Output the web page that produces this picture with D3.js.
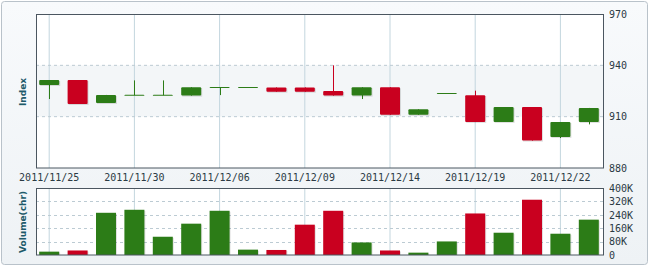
<!DOCTYPE html>
<html>
<head>
<meta charset="utf-8">
<script src="https://cdn.jsdelivr.net/npm/d3@7"></script>
<style>
  body { margin: 0; background: #ffffff; }
  svg { display: block; }
  .tick text { font-family: "DejaVu Sans Mono", monospace; font-size: 10px; fill: #2b3a44; }
</style>
</head>
<body>
<svg id="chart"></svg>
<script>
// trading days shown on the chart
const dates = ["2011/11/25", "2011/11/28", "2011/11/29", "2011/11/30", "2011/12/01",
  "2011/12/02", "2011/12/06", "2011/12/07", "2011/12/08", "2011/12/09",
  "2011/12/12", "2011/12/13", "2011/12/14", "2011/12/15", "2011/12/16",
  "2011/12/19", "2011/12/20", "2011/12/21", "2011/12/22", "2011/12/23"];
const openVals  = [928.5, 931.4, 918.0, 922.5, 922.5, 922.3, 927.0, 927.1, 927.1, 927.1,
  925.0, 922.3, 927.2, 911.1, 923.6, 922.5, 906.9, 915.6, 898.1, 906.9];
const highVals  = [931.4, 931.4, 922.7, 931.2, 931.2, 927.2, 927.0, 927.1, 927.1, 927.1,
  940.0, 927.2, 927.2, 914.3, 923.6, 925.2, 915.6, 915.6, 906.9, 915.1];
const lowVals   = [920.3, 917.4, 918.0, 922.5, 922.5, 922.3, 922.6, 927.1, 924.6, 924.6,
  922.3, 920.3, 911.1, 911.1, 923.6, 906.9, 906.9, 896.0, 897.5, 905.5];
const closeVals = [931.4, 917.4, 922.7, 922.5, 922.5, 927.2, 927.0, 927.1, 924.6, 924.6,
  922.3, 927.2, 911.1, 914.3, 923.6, 906.9, 915.6, 896.0, 906.9, 915.1];
const volumes   = [20000, 27000, 252000, 270000, 109000, 187000, 264000, 32000, 30000, 181000,
  264000, 75000, 27000, 14000, 81000, 248000, 133000, 330000, 127000, 211000];
const priceTicks = [880, 910, 940, 970];
const volTicks = [0, 80000, 160000, 240000, 320000, 400000];

const W = 650, H = 270;
const upColor = "#2c7c17", downColor = "#c9001f";

const svg = d3.select("#chart").attr("width", W).attr("height", H);

// frame background
const defs = svg.append("defs");
const grad = defs.append("linearGradient").attr("id", "bg").attr("x1", 0).attr("y1", 0).attr("x2", 0).attr("y2", 1);
grad.append("stop").attr("offset", "0%").attr("stop-color", "#f8fafc");
grad.append("stop").attr("offset", "100%").attr("stop-color", "#eef2f5");
svg.append("rect")
    .attr("x", 1.5).attr("y", 1.5)
    .attr("width", W - 4).attr("height", 263)
    .attr("rx", 3)
    .attr("fill", "url(#bg)")
    .attr("stroke", "#b9c2ca");

// scales
const x = d3.scaleBand().domain(dates).range([35, 603]);
const bw = 20;
const cx = d => x(d) + x.bandwidth() / 2;
const y = d3.scaleLinear().domain([880, 970]).range([168, 14]);
const yv = d3.scaleLinear().domain([0, 400000]).range([255, 188]);

const labelDates = dates.filter((d, i) => i % 3 === 0);

// ---------- price panel ----------
svg.append("rect")
    .attr("x", 36).attr("y", 14).attr("width", 568).attr("height", 154)
    .attr("fill", "#ffffff");
svg.append("rect")
    .attr("x", 36).attr("y", y(940)).attr("width", 568).attr("height", y(910) - y(940))
    .attr("fill", "#f3f6f8");

svg.append("g")
    .selectAll("line")
    .data(labelDates)
    .enter()
    .append("line")
    .attr("x1", d => cx(d)).attr("x2", d => cx(d))
    .attr("y1", 14).attr("y2", 168)
    .attr("stroke", "#c3d6de");

svg.append("g")
    .selectAll("line")
    .data([910, 940])
    .enter()
    .append("line")
    .attr("x1", 36).attr("x2", 604)
    .attr("y1", d => y(d)).attr("y2", d => y(d))
    .attr("stroke", "#bccbd3")
    .attr("stroke-dasharray", "3,3");

const idx = d3.range(dates.length);
const isUp = i => closeVals[i] >= openVals[i];

// wicks
svg.append("g")
    .selectAll("line")
    .data(idx)
    .enter()
    .append("line")
    .attr("x1", i => Math.round(cx(dates[i])) + 0.5)
    .attr("x2", i => Math.round(cx(dates[i])) + 0.5)
    .attr("y1", i => y(highVals[i]))
    .attr("y2", i => y(lowVals[i]))
    .attr("stroke", i => isUp(i) ? upColor : downColor);

// body shadows
svg.append("g")
    .selectAll("rect")
    .data(idx.filter(i => Math.abs(openVals[i] - closeVals[i]) > 0.3))
    .enter()
    .append("rect")
    .attr("x", i => cx(dates[i]) - bw / 2 + 1)
    .attr("y", i => y(Math.max(openVals[i], closeVals[i])) + 1)
    .attr("width", bw)
    .attr("height", i => Math.abs(y(openVals[i]) - y(closeVals[i])))
    .attr("fill", "#000")
    .attr("opacity", 0.12);

// bodies
svg.append("g")
    .selectAll("rect")
    .data(idx)
    .enter()
    .append("rect")
    .attr("x", i => cx(dates[i]) - bw / 2)
    .attr("y", i => y(Math.max(openVals[i], closeVals[i])) - (Math.abs(openVals[i] - closeVals[i]) > 0.3 ? 0 : 0.5))
    .attr("width", bw)
    .attr("height", i => Math.max(1, Math.abs(y(openVals[i]) - y(closeVals[i]))))
    .attr("rx", 1)
    .attr("fill", i => isUp(i) ? upColor : downColor);

svg.append("rect")
    .attr("x", 36.5).attr("y", 14.5).attr("width", 567).attr("height", 153.5)
    .attr("fill", "none")
    .attr("stroke", "#4b5660");

// price axis (right)
const yAxis = d3.axisRight(y).tickValues(priceTicks).tickSize(0).tickPadding(5);
svg.append("g")
    .attr("transform", "translate(604,0)")
    .call(yAxis)
    .call(g => g.select(".domain").remove());

// date axis
const xAxis = d3.axisBottom(x).tickValues(labelDates).tickSize(0).tickPadding(6);
svg.append("g")
    .attr("transform", "translate(0,168)")
    .call(xAxis)
    .call(g => g.select(".domain").remove());

// ---------- volume panel ----------
svg.append("rect")
    .attr("x", 36).attr("y", 188).attr("width", 568).attr("height", 67)
    .attr("fill", "#ffffff");

svg.append("g")
    .selectAll("line")
    .data(labelDates)
    .enter()
    .append("line")
    .attr("x1", d => cx(d)).attr("x2", d => cx(d))
    .attr("y1", 188).attr("y2", 255)
    .attr("stroke", "#c3d6de");

svg.append("g")
    .selectAll("line")
    .data(volTicks.slice(1, -1))
    .enter()
    .append("line")
    .attr("x1", 36).attr("x2", 604)
    .attr("y1", d => Math.round(yv(d)) + 0.5).attr("y2", d => Math.round(yv(d)) + 0.5)
    .attr("stroke", "#bccbd3")
    .attr("stroke-dasharray", "3,3");

svg.append("g")
    .selectAll("rect")
    .data(idx)
    .enter()
    .append("rect")
    .attr("x", i => cx(dates[i]) - bw / 2 + 1)
    .attr("y", i => yv(volumes[i]) + 1)
    .attr("width", bw)
    .attr("height", i => 255 - yv(volumes[i]) - 1)
    .attr("fill", "#000")
    .attr("opacity", 0.12);

svg.append("g")
    .selectAll("rect")
    .data(idx)
    .enter()
    .append("rect")
    .attr("x", i => cx(dates[i]) - bw / 2)
    .attr("y", i => yv(volumes[i]))
    .attr("width", bw)
    .attr("height", i => 255 - yv(volumes[i]))
    .attr("fill", i => isUp(i) ? upColor : downColor);

svg.append("rect")
    .attr("x", 36.5).attr("y", 188.5).attr("width", 567).attr("height", 66.5)
    .attr("fill", "none")
    .attr("stroke", "#4b5660");

const vAxis = d3.axisRight(yv).tickValues(volTicks).tickSize(0).tickPadding(5)
    .tickFormat(d => d === 0 ? "0" : (d / 1000) + "K");
svg.append("g")
    .attr("transform", "translate(604,0)")
    .call(vAxis)
    .call(g => g.select(".domain").remove());

// axis titles
svg.append("text")
    .attr("transform", "translate(26,92) rotate(-90)")
    .attr("text-anchor", "middle")
    .attr("font-family", "DejaVu Sans")
    .attr("font-weight", "bold")
    .attr("font-size", "9px")
    .attr("fill", "#1e5a6a")
    .text("Index");
svg.append("text")
    .attr("transform", "translate(26,222) rotate(-90)")
    .attr("text-anchor", "middle")
    .attr("font-family", "DejaVu Sans")
    .attr("font-weight", "bold")
    .attr("font-size", "9px")
    .attr("fill", "#1e5a6a")
    .text("Volume(chr)");
</script>
</body>
</html>
